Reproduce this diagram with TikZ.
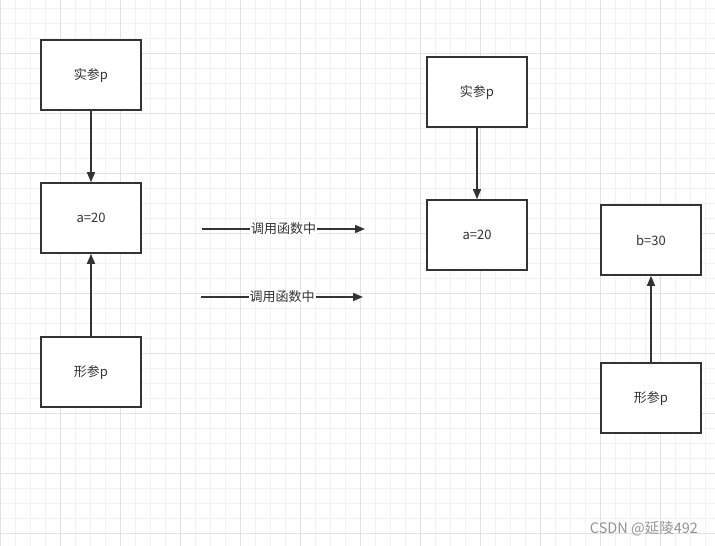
\documentclass[tikz,border=0pt]{standalone}
\usepackage{fontspec}
\setmainfont{Liberation Sans}
\newfontfamily\cjk{Noto Sans CJK SC}
\usetikzlibrary{positioning, arrows.meta}
\definecolor{linegray}{HTML}{333333}
\definecolor{gridminor}{HTML}{F2F2F2}
\definecolor{gridmajor}{HTML}{E2E2E2}
\tikzset{
  box/.style={rectangle, draw=linegray, line width=1.6pt, fill=white, minimum width=100pt, minimum height=70pt, text=linegray, font=\cjk\fontsize{13}{15}\selectfont},
  link/.style={draw=linegray, line width=1.5pt, -{Triangle[length=10pt, width=8pt]}},
  tag/.style={fill=white, inner sep=1pt, text=linegray, font=\cjk\fontsize{13}{15}\selectfont}
}

\begin{document}
\begin{tikzpicture}[x=1pt, y=-1pt]

  \useasboundingbox (0,0) rectangle (715,546);
  \fill[white] (0,0) rectangle (715,546);

  % grid
  \foreach \gx in {0,15,...,715} {
    \draw[gridminor, line width=0.8pt] (\gx,0) -- (\gx,546);
  }
  \foreach \gy in {8,23,...,546} {
    \draw[gridminor, line width=0.8pt] (0,\gy) -- (715,\gy);
  }
  \foreach \gx in {0,60,...,715} {
    \draw[gridmajor, line width=0.8pt] (\gx,0) -- (\gx,546);
  }
  \foreach \gy in {53,113,...,546} {
    \draw[gridmajor, line width=0.8pt] (0,\gy) -- (715,\gy);
  }

  % left column
  \node[box] (realL) at (91,75) {实参p};
  \node[box] (aL) at (91,218) {a=20};
  \node[box] (formL) at (91,372) {形参p};
  \draw[link] (realL) -- (aL);
  \draw[link] (formL) -- (aL);

  % middle arrows
  \coordinate (c1s) at (202,229);
  \coordinate (c1e) at (365,229);
  \coordinate (c2s) at (201,297);
  \coordinate (c2e) at (363,297);
  \draw[link] (c1s) -- node[tag] (call1) {调用函数中} (c1e);
  \draw[link] (c2s) -- node[tag] (call2) {调用函数中} (c2e);

  % right side
  \node[box] (realR) at (477,92) {实参p};
  \node[box] (aR) at (477,235) {a=20};
  \node[box] (bR) at (651,240) {b=30};
  \node[box] (formR) at (651,398) {形参p};
  \draw[link] (realR) -- (aR);
  \draw[link] (formR) -- (bR);

  % watermark
  \node[text=gray!85, font=\cjk\fontsize{14.5}{16}\selectfont] (mark) at (644,529) {CSDN @延陵492};

\end{tikzpicture}
\end{document}
